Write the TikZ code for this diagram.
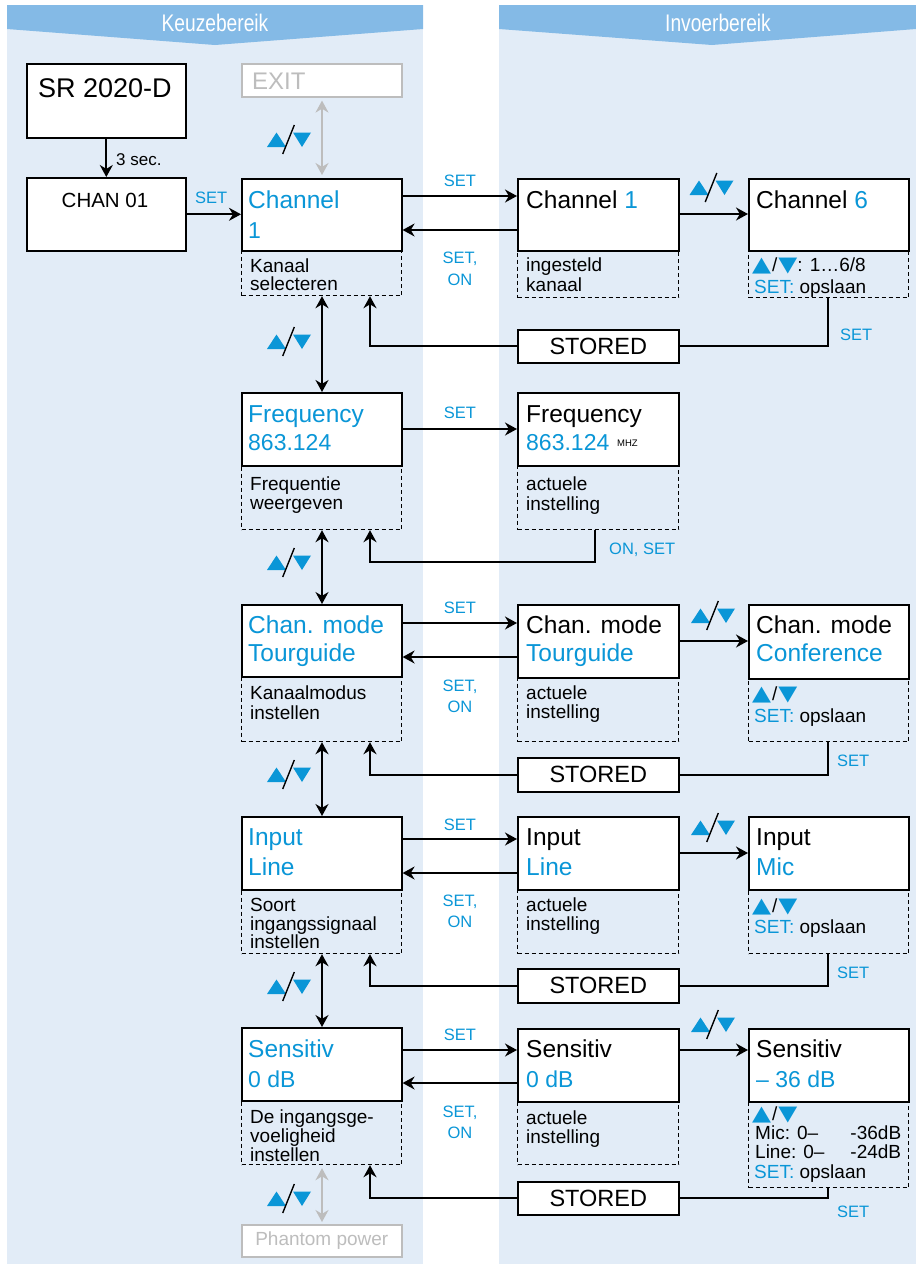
\documentclass[tikz,border=0pt]{standalone}
\usepackage{fontspec}
\usepackage{graphicx}
\setmainfont{Liberation Sans}
\newfontfamily\condf[FakeStretch=0.8]{Liberation Sans}
\newfontfamily\dejav{DejaVu Sans}
\usetikzlibrary{arrows.meta}
\definecolor{cblue}{HTML}{0A96D7}
\definecolor{panelc}{HTML}{E2ECF7}
\definecolor{headc}{HTML}{84BAE6}
\definecolor{grayc}{HTML}{BDBDBD}
\newcommand{\fsz}[1]{\fontsize{#1}{#1}\selectfont}
\newcommand{\upt}{{\dejav\color{cblue}\scalebox{1.3}[1.1]{▲}}}
\newcommand{\dnt}{{\dejav\color{cblue}\scalebox{1.3}[1.1]{▼}}}
\newcommand{\udd}{\upt\kern1pt/\kern1pt\dnt}
\tikzset{
  box/.style={draw, line width=1.6pt, fill=white, anchor=north west, inner sep=0pt, minimum width=160pt},
  gbox/.style={draw=grayc, line width=1.6pt, fill=white, anchor=north west, inner sep=0pt, minimum width=160pt},
  dbox/.style={draw, dash pattern=on 4pt off 3pt, line width=1.2pt, anchor=north west, inner sep=0pt, minimum width=160pt},
  arr/.style={line width=1.8pt, -{Stealth[length=12pt,width=13pt]}},
  darr/.style={line width=1.8pt, {Stealth[length=12pt,width=13pt]}-{Stealth[length=12pt,width=13pt]}},
  garr/.style={darr, draw=grayc},
  pline/.style={line width=1.8pt},
  txt/.style={anchor=base west, inner sep=0pt},
  bigt/.style={txt, font=\fsz{24.5}},
  numt/.style={txt, font=\fsz{23}, text=cblue},
  desct/.style={txt, font=\fsz{19}},
  labb/.style={txt, font=\fsz{16.5}, text=cblue},
  labc/.style={labb, anchor=base},
  updown/.pic={
    \fill[cblue] (-22,7) -- (-3,7) -- (-12.5,-7.5) -- cycle;
    \fill[cblue] (4,-7.5) -- (22,-7.5) -- (13,7) -- cycle;
    \draw[line width=1.4pt] (-6.3,14) -- (5.3,-15);
  }
}
\begin{document}
\begin{tikzpicture}[x=1pt,y=-1pt]
\useasboundingbox (0,0) rectangle (916,1267);
% panels
\fill[panelc] (7,5) rectangle (423,1264);
\fill[panelc] (499,5) rectangle (916,1264);
\fill[headc] (7,5) -- (423,5) -- (423,29) -- (215,45) -- (7,29) -- cycle;
\fill[headc] (499,5) -- (916,5) -- (916,29) -- (712,45) -- (499,29) -- cycle;
\node[font=\condf\fsz{24}, text=white, anchor=base, inner sep=0pt] (h1) at (215,31) {Keuzebereik};
\node[font=\condf\fsz{24}, text=white, anchor=base, inner sep=0pt] (h2) at (718,31) {Invoerbereik};

% start
\node[box, minimum height=74pt, minimum width=159pt] (sr) at (26,63) {};
\node[txt, anchor=base, font=\fsz{27}] (srt) at (105,97) {SR 2020-D};
\node[box, minimum height=73pt, minimum width=159pt] (chan01) at (26,177) {};
\node[txt, anchor=base, font=\fsz{20.5}] (chan01t) at (105,207.5) {CHAN 01};
\node[gbox, minimum height=33pt] (exit) at (241,63) {};
\node[txt, font=\fsz{24}, text=grayc] (exitt) at (252,89) {EXIT};

% row 1
\node[dbox, minimum height=45pt] (chLd) at (241,250) {};
\node[box, minimum height=72pt] (chL) at (241,178) {};
\node[bigt, text=cblue] (chLa) at (248,208) {Channel};
\node[numt] (chLb) at (248,238) {1};
\node[desct] (chLc) at (250,272) {Kanaal};
\node[desct] (chLe) at (250,290.5) {selecteren};

\node[dbox, minimum height=47pt, minimum width=161pt] (ch1d) at (517,250) {};
\node[box, minimum height=72pt, minimum width=161pt] (ch1) at (517,178) {};
\node[bigt] (ch1a) at (526,208) {Channel \textcolor{cblue}{1}};
\node[desct] (ch1c) at (526,271) {ingesteld};
\node[desct] (ch1e) at (526,291) {kanaal};

\node[dbox, minimum height=47pt] (ch6d) at (748,250) {};
\node[box, minimum height=72pt] (ch6) at (748,178) {};
\node[bigt] (ch6a) at (756,208) {Channel \textcolor{cblue}{6}};
\node[desct] (ch6c) at (752,271) {\udd: 1…6/8};
\node[desct] (ch6e) at (754,293) {\textcolor{cblue}{SET:} opslaan};

\node[box, minimum height=33pt, minimum width=161pt, font=\fsz{23.5}] (st1) at (517,329) {STORED};

% row 2
\node[dbox, minimum height=64pt] (frLd) at (241,465) {};
\node[box, minimum height=73pt] (frL) at (241,392) {};
\node[bigt, text=cblue] (frLa) at (248,422) {Frequency};
\node[numt] (frLb) at (248,450) {863.124};
\node[desct] (frLc) at (250,490.5) {Frequentie};
\node[desct] (frLe) at (250,509.5) {weergeven};

\node[dbox, minimum height=64pt, minimum width=161pt] (frRd) at (517,465) {};
\node[box, minimum height=73pt, minimum width=161pt] (frR) at (517,392) {};
\node[bigt] (frRa) at (526,422) {Frequency};
\node[numt] (frRb) at (526,450) {863.124};
\node[txt, font=\fsz{9.5}] (frRm) at (617,446) {MHZ};
\node[desct] (frRc) at (526,490.5) {actuele};
\node[desct] (frRe) at (526,510) {instelling};

% row 3
\node[dbox, minimum height=65pt] (cmLd) at (241,676) {};
\node[box, minimum height=72pt] (cmL) at (241,604) {};
\node[bigt, text=cblue] (cmLa) at (248,633) {Chan. mode};
\node[bigt, text=cblue] (cmLb) at (248,661) {Tourguide};
\node[desct] (cmLc) at (250,699.5) {Kanaalmodus};
\node[desct] (cmLe) at (250,719) {instellen};

\node[dbox, minimum height=64pt, minimum width=161pt] (cmRd) at (517,677) {};
\node[box, minimum height=73pt, minimum width=161pt] (cmR) at (517,604) {};
\node[bigt] (cmRa) at (526,633) {Chan. mode};
\node[bigt, text=cblue] (cmRb) at (526,661) {Tourguide};
\node[desct] (cmRc) at (526,699) {actuele};
\node[desct] (cmRe) at (526,718.5) {instelling};

\node[dbox, minimum height=63pt] (cmCd) at (748,678) {};
\node[box, minimum height=74pt] (cmC) at (748,604) {};
\node[bigt] (cmCa) at (756,633) {Chan. mode};
\node[bigt, text=cblue] (cmCb) at (756,661) {Conference};
\node[desct] (cmCc) at (752,700) {\udd};
\node[desct] (cmCe) at (754,722.5) {\textcolor{cblue}{SET:} opslaan};

\node[box, minimum height=34pt, minimum width=161pt, font=\fsz{23.5}] (st3) at (517,757) {STORED};

% row 4
\node[dbox, minimum height=64pt] (inLd) at (241,889) {};
\node[box, minimum height=73pt] (inL) at (241,816) {};
\node[bigt, text=cblue] (inLa) at (248,845) {Input};
\node[bigt, text=cblue] (inLb) at (248,875) {Line};
\node[desct] (inLc) at (250,911.5) {Soort};
\node[desct] (inLe) at (250,930) {ingangssignaal};
\node[desct] (inLf) at (250,948.5) {instellen};

\node[dbox, minimum height=64pt, minimum width=161pt] (inRd) at (517,889) {};
\node[box, minimum height=73pt, minimum width=161pt] (inR) at (517,816) {};
\node[bigt] (inRa) at (526,845) {Input};
\node[bigt, text=cblue] (inRb) at (526,875) {Line};
\node[desct] (inRc) at (526,911.5) {actuele};
\node[desct] (inRe) at (526,930.5) {instelling};

\node[dbox, minimum height=64pt] (inMd) at (748,889) {};
\node[box, minimum height=73pt] (inM) at (748,816) {};
\node[bigt] (inMa) at (756,845) {Input};
\node[bigt, text=cblue] (inMb) at (756,875) {Mic};
\node[desct] (inMc) at (752,912) {\udd};
\node[desct] (inMe) at (754,933) {\textcolor{cblue}{SET:} opslaan};

\node[box, minimum height=34pt, minimum width=161pt, font=\fsz{23.5}] (st4) at (517,968) {STORED};

% row 5
\node[dbox, minimum height=64pt] (seLd) at (241,1100) {};
\node[box, minimum height=73pt] (seL) at (241,1027) {};
\node[bigt, text=cblue] (seLa) at (248,1057) {Sensitiv};
\node[numt] (seLb) at (248,1087) {0 dB};
\node[desct] (seLc) at (250,1123.5) {De ingangsge-};
\node[desct] (seLe) at (250,1142.5) {voeligheid};
\node[desct] (seLf) at (250,1161.5) {instellen};

\node[dbox, minimum height=63pt, minimum width=161pt] (seRd) at (517,1101) {};
\node[box, minimum height=73pt, minimum width=161pt] (seR) at (517,1028) {};
\node[bigt] (seRa) at (526,1057) {Sensitiv};
\node[numt] (seRb) at (526,1087) {0 dB};
\node[desct] (seRc) at (526,1124) {actuele};
\node[desct] (seRe) at (526,1143) {instelling};

\node[dbox, minimum height=86pt] (se36d) at (748,1101) {};
\node[box, minimum height=73pt] (se36) at (748,1028) {};
\node[bigt] (se36a) at (756,1057) {Sensitiv};
\node[numt] (se36b) at (756,1087) {– 36 dB};
\node[desct] (se36c) at (752,1120.5) {\udd};
\node[desct] (se36e) at (755,1139.5) {\makebox[146pt][l]{Mic: 0–\hfill-36dB}};
\node[desct] (se36f) at (755,1158.5) {\makebox[146pt][l]{Line: 0–\hfill-24dB}};
\node[desct] (se36g) at (754,1178) {\textcolor{cblue}{SET:} opslaan};

\node[box, minimum height=33pt, minimum width=161pt, font=\fsz{23.5}] (st5) at (517,1181) {STORED};

\node[gbox, minimum height=32pt, font=\fsz{19}, text=grayc] (phantom) at (241,1224) {Phantom power};

% connectors: start
\draw[arr] (sr.south) -- (chan01.north);
\node[txt, font=\fsz{17}] (l3s) at (116,165.5) {3 sec.};
\draw[arr] (chan01.east) -- (chan01.east -| chL.west);
\node[labb] (lset0) at (195,203) {SET};
\draw[garr, shorten <=3pt, shorten >=3pt] ([xshift=81pt]exit.south west) -- ([xshift=81pt]chL.north west);
\pic at (289,140) {updown};

% row 1 connectors
\draw[arr] ([yshift=-18pt]chL.north east) -- ([yshift=-18pt]ch1.north west);
\node[labc] (r1s) at (460,186.5) {SET};
\draw[arr] ([yshift=-52pt]ch1.north west) -- ([yshift=-52pt]chL.north east);
\node[labc] (r1a) at (460,263) {SET,};
\node[labc] (r1b) at (460,285) {ON};
\draw[arr] ([yshift=-36pt]ch1.north east) -- ([yshift=-36pt]ch6.north west);
\pic at (711.5,188) {updown};
\draw[pline] ([xshift=80pt]ch6d.south west) |- (st1.east);
\node[labb] (r1t) at (840,340) {SET};
\draw[arr] (st1.west) -| ([xshift=129pt]chLd.south west);
\draw[darr] ([xshift=81pt]chLd.south west) -- ([xshift=81pt]frL.north west);
\pic at (289,342) {updown};

% row 2 connectors
\draw[arr] ([yshift=-37pt]frL.north east) -- ([yshift=-37pt]frR.north west);
\node[labc] (r2s) at (460,418) {SET};
\draw[arr] ([xshift=78pt]frRd.south west) -- ++(0,32) -| ([xshift=129pt]frLd.south west);
\node[labb] (r2t) at (609,554) {ON, SET};
\draw[darr] ([xshift=81pt]frLd.south west) -- ([xshift=81pt]cmL.north west);
\pic at (289,563) {updown};

% row 3 connectors
\draw[arr] ([yshift=-19pt]cmL.north east) -- ([yshift=-19pt]cmR.north west);
\node[labc] (r3s) at (460,613.5) {SET};
\draw[arr] ([yshift=-53pt]cmR.north west) -- ([yshift=-53pt]cmL.north east);
\node[labc] (r3a) at (460,691) {SET,};
\node[labc] (r3b) at (460,712.5) {ON};
\draw[arr] ([yshift=-37pt]cmR.north east) -- ([yshift=-37pt]cmC.north west);
\pic at (713,616) {updown};
\draw[pline] ([xshift=80pt]cmCd.south west) |- (st3.east);
\node[labb] (r3t) at (837,766.5) {SET};
\draw[arr] (st3.west) -| ([xshift=129pt]cmLd.south west);
\draw[darr] ([xshift=81pt]cmLd.south west) -- ([xshift=81pt]inL.north west);
\pic at (289,775) {updown};

% row 4 connectors
\draw[arr] ([yshift=-23pt]inL.north east) -- ([yshift=-23pt]inR.north west);
\node[labc] (r4s) at (460,830) {SET};
\draw[arr] ([yshift=-57pt]inR.north west) -- ([yshift=-57pt]inL.north east);
\node[labc] (r4a) at (460,906) {SET,};
\node[labc] (r4b) at (460,927.5) {ON};
\draw[arr] ([yshift=-37pt]inR.north east) -- ([yshift=-37pt]inM.north west);
\pic at (713,828) {updown};
\draw[pline] ([xshift=80pt]inMd.south west) |- (st4.east);
\node[labb] (r4t) at (837,978) {SET};
\draw[arr] (st4.west) -| ([xshift=129pt]inLd.south west);
\draw[darr] ([xshift=81pt]inLd.south west) -- ([xshift=81pt]seL.north west);
\pic at (289,987) {updown};

% row 5 connectors
\draw[arr] ([yshift=-23pt]seL.north east) -- ([yshift=-23pt]seL.north east -| seR.west);
\node[labc] (r5s) at (460,1040.5) {SET};
\draw[arr] ([yshift=-55pt]seR.north west) -- ([yshift=-55pt]seR.north west -| seL.east);
\node[labc] (r5a) at (460,1117) {SET,};
\node[labc] (r5b) at (460,1138.5) {ON};
\draw[arr] ([yshift=-22pt]seR.north east) -- ([yshift=-22pt]se36.north west);
\pic at (713,1025) {updown};
\draw[pline] ([xshift=80pt]se36d.south west) |- (st5.east);
\node[labb] (r5t) at (837,1217.5) {SET};
\draw[arr] (st5.west) -| ([xshift=129pt]seLd.south west);
\draw[garr, shorten <=3pt, shorten >=2pt] ([xshift=81pt]seLd.south west) -- ([xshift=81pt]phantom.north west);
\pic at (289,1199) {updown};
\end{tikzpicture}
\end{document}
